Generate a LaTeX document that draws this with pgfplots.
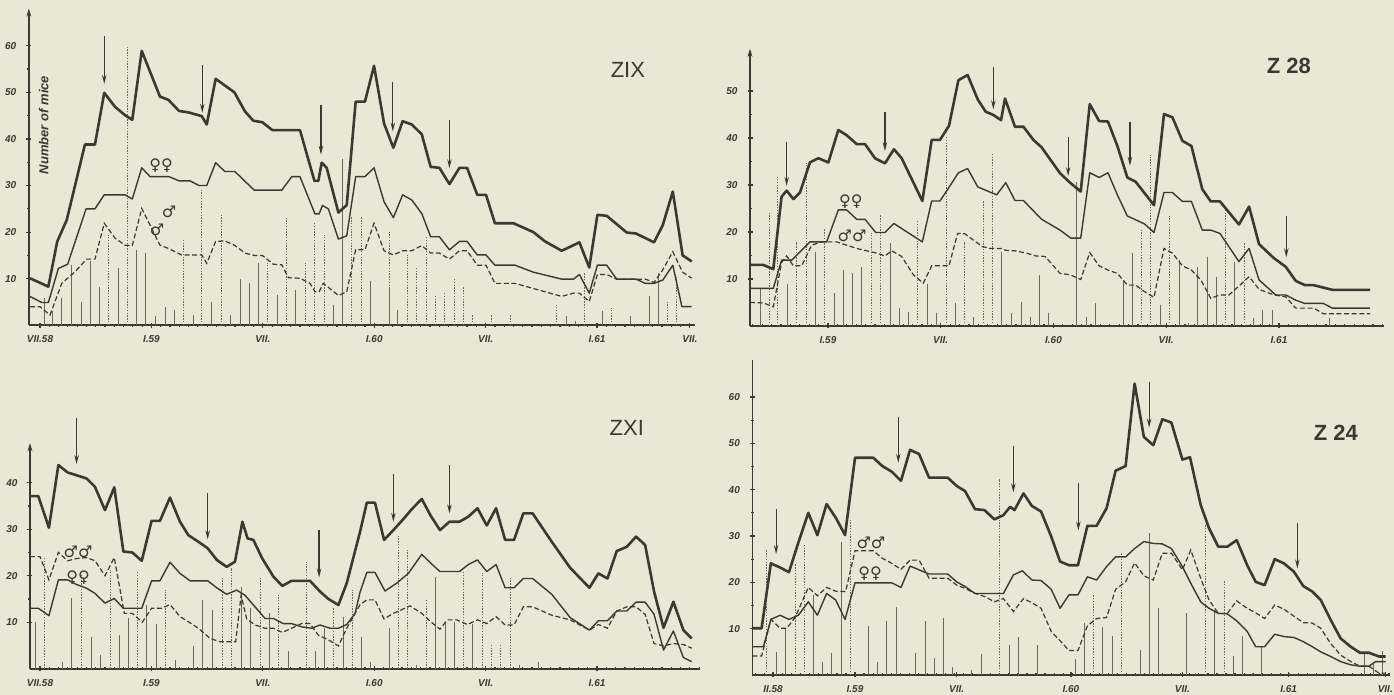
\documentclass[border=0pt]{standalone}
\usepackage{fontspec}
\setmainfont{Liberation Sans}
\newfontfamily\symfont{DejaVu Sans}
\usepackage{pgfplots}
\pgfplotsset{compat=1.18}
\usetikzlibrary{arrows.meta}
\definecolor{paper}{RGB}{232,232,214}
\definecolor{ink}{RGB}{58,58,50}
\definecolor{barc}{RGB}{105,105,95}
\tikzset{
 ttl/.style={font=\fontsize{11}{11}\selectfont, text=ink},
 ttlb/.style={font=\fontsize{11}{11}\selectfont\bfseries, text=ink},
 sym/.style={font=\symfont\fontsize{8}{8}\selectfont, text=ink, inner sep=0pt},
}
\pgfplotsset{
 panel/.style={
  scale only axis, anchor=south west, clip=false,
  axis lines=left,
  axis line style={ink, line width=0.9pt},
  x axis line style={-},
  y axis line style={-{Stealth[length=4pt,width=2.4pt]}},
  ymin=0,
  tick style={ink, line width=0.6pt},
  major tick length=2.5pt, minor tick length=1.5pt,
  tick align=center,
  minor y tick num=1,
  minor xtick={0,0.5,...,35.5},
  ticklabel style={font=\fontsize{5}{5}\selectfont\bfseries\itshape, text=ink},
  /pgf/number format/assume math mode=true,
  yticklabel style={xshift=-1.5pt},
  xticklabel style={yshift=-0.5pt},
 },
 tot/.style={ink, line width=1.3pt, line join=round, no marks},
 fem/.style={ink, line width=0.7pt, line join=round, no marks},
 mal/.style={ink, line width=0.6pt, dash pattern=on 2.5pt off 1.3pt, no marks},
 bard/.style={ycomb, barc, line width=0.3pt, dash pattern=on 0.7pt off 0.7pt, no marks},
 bars/.style={ycomb, barc, line width=0.35pt, no marks},
 arr/.style={ink, line width=0.6pt, -{Stealth[length=4.5pt,width=2.2pt]}, no marks},
}
\begin{document}
\begin{tikzpicture}
\useasboundingbox (0,0) rectangle (697pt,347.5pt);
\fill[paper] (0,0) rectangle (697pt,347.5pt);

% ================= ZIX =================
\begin{axis}[panel, at={(14.43pt,184.85pt)}, width=333.3pt, height=158.4pt,
  xmin=-0.6, xmax=35.3, ymax=68,
  ytick={10,20,30,40,50,60},
  xtick={0,6,12,18,24,30,35}, xticklabels={VII.58,I.59,VII.,I.60,VII.,I.61,VII.}]
\addplot[bars] coordinates {(0.22,5.8)(0.68,3)(1.17,5.8)(1.71,13)(2.21,5)(2.69,13.7)(3.18,8.3)(4.22,12.2)(5.21,16.2)(5.69,15.5)(6.23,1.9)(6.73,4)(7.24,3.3)(8.26,2.2)(9.25,5)(10.23,2.2)(10.77,10)(11.26,9)(11.76,13.3)(12.78,6.5)(13.77,7.6)(15.8,4.4)(16.28,35.8)(17.81,9.4)(18.8,8)(19.26,3.3)(28.33,1.9)(28.82,1)(30.31,3)(31.81,1.9)(32.8,6.2)(33.3,11.2)};
\addplot[bard] coordinates {(3.68,19.4)(4.7,60)(7.74,18.3)(8.71,29)(9.75,24)(12.26,13.3)(13.29,23)(14.27,13.3)(14.78,21.9)(15.3,19.4)(16.79,23.3)(17.32,23.3)(18.8,20.1)(19.8,15.1)(20.29,12.2)(20.79,19)(21.28,6.2)(21.78,7.2)(22.3,10.1)(22.8,8.3)(23.29,2.2)(24.33,2.2)(25.32,2.2)(27.83,4.4)(29.3,11.2)(30.79,3.8)(33.79,5)(34.29,10.4)};
\addplot[mal] coordinates {(-0.54,4.0)(0,4.0)(0.54,2.2)(1.17,9.0)(1.89,11.5)(2.51,14.2)(2.96,14.2)(3.46,21.9)(4.04,18.7)(4.58,17.2)(4.97,17.1)(5.48,25.1)(6.46,17.2)(6.91,16.5)(7.63,15.1)(8.71,15.1)(8.98,13.3)(9.46,18.0)(9.96,18.1)(10.47,17.2)(11.04,15.5)(11.54,15.0)(11.97,15.0)(12.57,13.1)(13.02,13.0)(13.38,10.2)(14.0,10.1)(14.54,9.0)(14.81,7.2)(15.03,7.2)(15.26,9.0)(16.07,6.4)(16.52,7.2)(17.0,16.2)(17.5,16.2)(17.99,21.9)(18.53,16.0)(19.03,15.1)(19.53,16.0)(20.02,16.0)(20.56,17.1)(21.04,15.5)(21.51,15.5)(22.05,14.2)(22.59,16.0)(23.0,16.0)(23.55,12.9)(24.02,12.9)(24.5,9.0)(25.58,9.0)(26.57,7.9)(28.1,6.2)(28.73,6.9)(29.05,6.9)(29.58,5.1)(30.02,10.9)(30.52,10.9)(31.06,9.9)(32.6,9.9)(33.07,9.2)(33.54,11.9)(34.08,15.8)(34.61,11.4)(35.1,10.1)};
\addplot[fem] coordinates {(-0.54,6.2)(0.09,4.9)(0.45,4.9)(0.99,12.2)(1.49,13.1)(2.48,25.0)(2.96,25.0)(3.46,28.0)(4.58,28.0)(4.97,27.1)(5.48,33.8)(5.93,31.9)(6.95,31.9)(7.49,31.0)(8.08,31.0)(8.56,30.0)(8.98,30.0)(9.46,34.9)(9.96,33.0)(10.5,33.0)(11.04,30.9)(11.54,29.0)(13.02,29.0)(13.56,31.9)(14.0,31.9)(14.81,23.9)(15.03,23.9)(15.21,25.7)(15.53,25.0)(16.07,18.5)(16.52,19.2)(17.0,31.9)(17.5,31.9)(17.99,33.8)(18.53,26.5)(19.03,23.1)(19.53,28.0)(20.02,26.9)(20.56,24.0)(21.04,19.0)(21.51,19.0)(22.05,16.2)(22.59,18.0)(23.0,18.0)(23.55,15.1)(24.02,15.1)(24.5,12.9)(25.58,12.9)(26.57,11.4)(28.1,9.9)(28.73,9.9)(29.05,10.9)(29.58,6.9)(30.02,12.9)(30.52,12.9)(31.06,9.9)(32.1,9.9)(32.6,9.0)(33.07,9.0)(33.54,9.7)(34.08,12.9)(34.57,4.0)(35.1,4.0)};
\addplot[tot] coordinates {(-0.54,10.1)(0.45,8.3)(0.93,18)(1.44,22.6)(2.42,38.8)(2.96,38.8)(3.46,49.9)(4.04,46.9)(4.58,45.1)(4.97,44.1)(5.48,58.9)(6.46,49.1)(6.91,48.4)(7.49,46)(7.99,45.7)(8.71,44.9)(8.98,43.1)(9.46,52.9)(10.47,50.0)(11.04,45.9)(11.49,43.9)(11.97,43.6)(12.51,41.9)(14.0,41.9)(14.78,31.0)(14.99,31.0)(15.17,34.9)(15.44,33.8)(16.07,24.2)(16.52,25.8)(17.0,48.0)(17.5,48.0)(17.99,55.7)(18.53,43.3)(19.03,38.1)(19.53,43.8)(20.02,43.1)(20.56,41.0)(21.04,34.0)(21.51,33.8)(22.05,30.3)(22.59,33.8)(23.0,33.8)(23.55,28.0)(24.02,28.0)(24.5,21.9)(25.5,21.9)(26.57,20.0)(27.2,18.0)(28.1,16.0)(29.05,17.8)(29.58,12.4)(30.02,23.7)(30.52,23.5)(31.06,21.7)(31.6,19.9)(32.1,19.7)(33.07,17.8)(33.54,21.5)(34.08,28.7)(34.61,15.0)(35.1,13.7)};
\addplot[arr] coordinates {(3.46,62)(3.46,51.8)};
\addplot[arr] coordinates {(8.74,55.9)(8.74,45.6)};
\addplot[arr] coordinates {(15.13,47.3)(15.13,36.6)};
\addplot[arr] coordinates {(19.0,52.3)(19.0,41.6)};
\addplot[arr] coordinates {(22.05,44)(22.05,33.7)};
\node[ttl] at (axis cs:31.66,54.8) {ZIX};
\node[rotate=90, font=\fontsize{6.5}{6.5}\selectfont\bfseries\itshape, text=ink] at (axis cs:0.2,43) {Number of mice};
\node[sym] at (axis cs:6.52,34.2) {♀♀};
\node[sym] at (axis cs:6.95,24.4) {♂};
\node[sym] at (axis cs:6.3,20.4) {♂};
\end{axis}

% ================= Z28 =================
\begin{axis}[panel, at={(375pt,184.5pt)}, width=317.1pt, height=138.65pt,
  xmin=1.85, xmax=35.6, ymax=59,
  ytick={10,20,30,40,50},
  minor xtick={2,2.5,...,35.5},
  xtick={6,12,18,24,30}, xticklabels={I.59,VII.,I.60,VII.,I.61}]
\addplot[bars] coordinates {(2.38,8)(3.85,9)(5.34,15.8)(6.34,7)(6.82,11.9)(7.3,11.2)(7.79,12.6)(9.3,17.7)(9.78,3.8)(10.28,3)(11.3,9)(11.78,2.7)(12.76,4.8)(13.73,2)(15.24,15.8)(15.77,2.7)(16.27,5.2)(16.75,2)(17.25,10.9)(17.73,2.7)(19.23,30.7)(19.73,2)(20.21,4.8)(21.7,9.8)(22.2,15.5)(23.67,4.5)(24.68,14)(25.16,0.7)(25.66,12.6)(26.19,14.6)(26.67,10.5)(27.64,13.7)(28.64,1.8)(29.13,3.5)(29.65,3.5)(32.67,1.6)};
\addplot[bard] coordinates {(2.86,24)(3.32,31.8)(4.33,17.9)(4.83,34.6)(5.8,20.8)(8.29,19.7)(8.77,23.8)(10.77,22.6)(12.28,40.3)(13.26,17.9)(14.25,26.5)(14.75,36.6)(22.68,20.4)(23.17,36.4)(24.17,23.4)(27.16,25)(28.14,17.6)};
\addplot[mal] coordinates {(1.85,5.0)(2.56,4.9)(3.09,4.1)(3.53,13.5)(3.8,14.9)(4.16,12.8)(4.6,12.8)(5.13,17.2)(5.66,17.9)(6.46,17.9)(6.99,17.2)(7.53,16.5)(8.06,16.0)(8.6,15.5)(9.03,14.9)(9.39,16.0)(9.92,14.8)(10.54,10.9)(11.07,9.1)(11.52,12.8)(12.44,12.8)(12.9,19.7)(13.29,19.6)(14.21,16.9)(14.62,16.5)(15.24,16.5)(15.46,16.1)(15.95,16.0)(16.57,15.5)(17.05,14.9)(17.55,14.8)(18.35,11.2)(18.88,10.9)(19.45,9.9)(19.93,15.6)(20.43,12.8)(20.9,11.9)(21.4,11.2)(21.93,8.7)(22.37,8.7)(22.85,7.3)(23.35,6.1)(23.88,16.5)(24.33,15.5)(24.86,12.8)(25.34,11.9)(25.84,9.8)(26.37,5.9)(26.86,6.6)(27.34,6.6)(27.87,8.5)(28.41,10.5)(28.94,7.8)(29.74,6.6)(30.36,6.2)(30.89,3.8)(31.86,3.8)(32.36,2.6)(34.85,2.6)};
\addplot[fem] coordinates {(1.85,8.0)(3.09,8.0)(3.53,14.0)(4.07,14.0)(5.04,17.9)(5.93,17.9)(6.55,24.7)(6.99,24.7)(7.53,22.7)(7.97,22.7)(8.54,19.9)(9.03,19.9)(9.51,21.8)(11.02,17.9)(11.52,26.6)(11.96,26.6)(12.44,29.5)(12.94,32.6)(13.43,33.5)(13.97,29.6)(14.44,28.8)(14.98,27.9)(15.46,30.5)(15.95,26.7)(16.4,26.7)(16.93,24.5)(17.37,22.7)(18.35,20.4)(18.92,18.7)(19.45,18.7)(19.93,32.6)(20.43,31.6)(20.9,32.6)(21.4,27.9)(21.93,23.4)(22.37,22.6)(22.85,21.7)(23.35,19.9)(23.88,28.4)(24.33,28.4)(24.86,26.5)(25.34,26.5)(25.92,20.4)(26.37,20.4)(26.86,19.7)(27.87,13.7)(28.41,16.5)(28.94,9.8)(29.83,6.6)(30.36,6.6)(30.89,5.5)(31.37,4.8)(32.36,4.8)(32.84,3.8)(34.85,3.8)};
\addplot[tot] coordinates {(1.85,13.0)(2.56,13.0)(3.09,12.1)(3.53,27.5)(3.8,28.8)(4.16,27.0)(4.51,28.4)(5.04,34.8)(5.49,35.7)(6.02,34.8)(6.55,41.7)(6.99,40.6)(7.53,38.7)(7.97,38.7)(8.5,35.7)(9.03,34.6)(9.51,37.6)(9.92,35.7)(11.02,26.6)(11.52,39.6)(11.96,39.6)(12.44,42.6)(12.94,52.3)(13.43,53.4)(13.97,48.2)(14.39,45.6)(14.8,44.9)(15.21,43.8)(15.42,48.4)(15.95,42.4)(16.4,42.4)(16.93,39.6)(17.37,38.0)(18.35,32.5)(18.88,30.5)(19.45,28.6)(19.93,47.2)(20.43,43.6)(20.9,43.5)(21.4,38.3)(21.93,31.6)(22.37,30.7)(23.35,25.7)(23.88,45.1)(24.33,44.4)(24.86,39.4)(25.34,38.3)(25.92,29.1)(26.37,26.5)(26.86,26.5)(27.87,21.6)(28.41,25.4)(28.94,17.4)(29.74,14.4)(30.36,12.6)(30.89,9.6)(31.37,8.7)(31.83,8.7)(32.84,7.7)(34.85,7.7)};
\addplot[arr] coordinates {(3.8,39.2)(3.8,29.8)};
\addplot[arr] coordinates {(9.03,45.6)(9.03,37.2)};
\addplot[arr] coordinates {(14.8,55.2)(14.8,46.1)};
\addplot[arr] coordinates {(18.78,40.3)(18.78,31.9)};
\addplot[arr] coordinates {(22.07,43.5)(22.07,34.1)};
\addplot[arr] coordinates {(30.39,23.4)(30.39,14.6)};
\node[ttlb] at (axis cs:30.53,55.3) {Z 28};
\node[sym] at (axis cs:7.22,26.4) {♀♀};
\node[sym] at (axis cs:7.28,19.1) {♂♂};
\end{axis}

% ================= ZXI =================
\begin{axis}[panel, at={(14.99pt,13.15pt)}, width=334.6pt, height=112.76pt,
  xmin=-0.54, xmax=35.5, ymax=48.5,
  ytick={10,20,30,40},
  xtick={0,6,12,18,24,30}, xticklabels={VII.58,I.59,VII.,I.60,VII.,I.61}]
\addplot[bars] coordinates {(-0.27,10.1)(1.2,1.5)(1.71,15.1)(2.75,6.9)(3.23,2.9)(4.25,7.2)(4.76,10.8)(5.75,13.7)(6.28,9.7)(7.27,1.9)(8.26,4.9)(8.76,14.8)(9.3,12.6)(10.83,17.6)(11.35,13)(12.35,11.9)(13.38,3.7)(14.81,3.7)(15.31,8.7)(16.34,11.2)(17.32,6.9)(17.81,1.5)(18.8,8.7)(20.29,0.8)(21.29,19.8)(21.81,10.1)(22.32,10.1)(23.3,9.7)(25.82,0.8)(26.84,1.5)};
\addplot[bard] coordinates {(0.22,23.7)(2.21,20.1)(3.77,21.2)(5.26,21)(6.77,16.9)(9.82,19.8)(10.32,21.7)(11.85,19.8)(12.84,15.8)(14.33,22.9)(15.8,13)(16.82,16.9)(19.3,28.7)(19.8,25.5)(20.79,14.8)(22.8,20.9)(23.81,20.5)(24.33,5.4)(24.81,5.4)(25.32,19.6)};
\addplot[mal] coordinates {(-0.54,24.1)(0,24.1)(0.48,19.1)(0.99,25.0)(1.49,23.2)(1.97,23.7)(2.51,23.9)(2.96,23.2)(3.5,20.0)(4.0,23.9)(4.54,11.9)(4.97,11.9)(5.51,10.0)(6.01,13.0)(6.55,13.0)(7.0,13.8)(7.54,11.2)(7.99,10.1)(8.53,8.7)(9.16,6.5)(9.69,5.8)(10.54,5.8)(10.83,15.8)(11.13,10.7)(11.58,9.4)(12.12,8.7)(12.57,8.7)(13.05,7.8)(13.55,8.7)(14.09,9.7)(14.54,9.7)(14.99,7.2)(15.53,6.2)(16.07,4.9)(16.52,8.7)(17.24,13.8)(17.6,14.8)(18.04,14.8)(18.53,10.7)(19.03,11.9)(19.93,13.5)(20.56,11.9)(21.04,10.1)(21.54,8.5)(21.94,10.5)(22.44,10.5)(23.02,9.5)(23.56,10.5)(24.06,9.7)(24.56,11.2)(25.05,9.4)(25.53,9.4)(26.03,13.3)(26.53,13.3)(27.56,11.5)(28.55,10.5)(29.59,8.3)(30.07,9.5)(30.56,8.7)(31.06,12.4)(31.6,13.3)(32.1,13.3)(32.59,11.7)(33.07,5.4)(33.58,4.9)(34.11,5.4)(34.65,5.2)(35.1,4.4)};
\addplot[fem] coordinates {(-0.54,13.0)(-0.09,13.0)(0.48,11.4)(0.99,19.1)(1.49,19.1)(1.97,18.1)(2.51,17.3)(2.96,16.2)(3.5,14.1)(4.0,15.1)(4.49,13.0)(5.48,13.0)(6.01,18.9)(6.46,18.9)(7.0,22.9)(7.54,20.5)(8.08,18.9)(9.03,18.9)(9.52,17.4)(10.05,16.0)(10.59,16.9)(11.04,15.8)(11.58,13.3)(12.12,10.8)(12.57,10.8)(13.1,9.7)(13.55,9.7)(14.09,9.0)(14.63,8.7)(15.08,9.4)(15.62,8.7)(16.07,8.7)(16.52,9.5)(16.97,11.9)(17.24,16.5)(17.6,20.7)(18.04,20.7)(18.58,16.7)(19.21,18.4)(19.84,20.5)(20.56,24.6)(21.04,22.7)(21.54,20.9)(22.59,20.9)(23.07,22.4)(23.56,23.4)(24.06,20.9)(24.56,22.4)(25.05,17.4)(25.53,17.4)(26.03,19.4)(26.53,19.4)(27.56,16.0)(28.55,11.0)(29.59,8.3)(30.07,10.3)(30.56,10.3)(31.06,12.4)(31.6,12.4)(32.1,14.3)(32.59,14.3)(33.07,11.7)(33.58,4.0)(34.11,8.1)(34.65,2.4)(35.1,1.5)};
\addplot[tot] coordinates {(-0.54,37.1)(-0.09,37.1)(0.48,30.3)(0.99,43.8)(1.49,42.2)(1.97,41.6)(2.51,40.9)(2.96,39.1)(3.5,34.1)(4.0,39.0)(4.49,25.2)(4.97,25.0)(5.48,23.2)(6.01,31.8)(6.46,31.8)(7.0,36.8)(7.54,31.6)(7.99,28.7)(8.53,27.3)(9.03,25.9)(9.52,23.4)(10.05,21.9)(10.5,23.0)(10.9,31.6)(11.18,28.0)(11.49,27.7)(11.97,23.7)(12.57,19.8)(13.05,17.8)(13.55,18.9)(14.54,18.9)(15.08,16.6)(15.53,15.0)(16.07,13.7)(16.52,18.4)(17.24,29.5)(17.6,35.7)(18.04,35.7)(18.53,27.7)(19.03,29.8)(19.53,32.0)(20.02,34.3)(20.56,36.5)(21.04,32.9)(21.54,29.8)(22.05,31.6)(22.59,31.6)(23.07,32.7)(23.56,34.5)(24.06,30.8)(24.56,34.5)(25.05,27.7)(25.53,27.7)(26.03,33.4)(26.53,33.4)(27.56,27.3)(28.55,21.7)(29.59,17.4)(30.07,20.5)(30.56,19.4)(31.06,25.3)(31.6,26.2)(32.1,28.4)(32.59,26.6)(33.07,16.6)(33.58,8.8)(34.11,14.4)(34.65,8.3)(35.1,6.5)};
\addplot[arr] coordinates {(1.97,54)(1.97,44)};
\addplot[arr] coordinates {(9.03,37.7)(9.03,27.8)};
\addplot[arr] coordinates {(15.03,29.8)(15.03,19.6)};
\addplot[arr] coordinates {(19.03,41.8)(19.03,31.6)};
\addplot[arr] coordinates {(22.05,43.7)(22.05,33.4)};
\node[ttl] at (axis cs:31.6,51.8) {ZXI};
\node[sym] at (axis cs:2.05,25.1) {♂♂};
\node[sym] at (axis cs:2.05,19.5) {♀♀};
\end{axis}

% ================= Z24 =================
\begin{axis}[panel, at={(376.2pt,10pt)}, width=318.8pt, height=157.5pt,
  xmin=0.33, xmax=35.56, ymax=68,
  ytick={10,20,30,40,50,60},
  minor xtick={0.5,1,...,35.5},
  y axis line style={-},
  xtick={1.47,6,11.62,17.93,24.09,29.96,35.3}, xticklabels={II.58,I.59,VII.,I.60,VII.,I.61,VII.}]
\addplot[bars] coordinates {(1.64,5)(2.13,10.1)(3.7,17.3)(4.2,2.9)(4.71,4.7)(5.23,28.8)(6.74,10.6)(7.25,2.9)(7.75,11.7)(8.3,14.7)(9.31,4.7)(9.87,11.7)(10.36,3.6)(10.88,12.4)(11.4,1.8)(12.45,1.1)(12.96,4.5)(14.51,6.5)(15.02,8.3)(16.06,6.5)(18.15,3.4)(18.67,11.3)(19.68,10.4)(20.2,8.4)(21.75,5.4)(22.25,30.6)(22.78,14.4)(24.31,13.3)(24.82,0.5)(25.87,14)(26.9,4.1)(27.42,8.4)(27.94,0.4)(28.45,6.1)(30.0,0.4)(34.12,4.7)(34.64,2.5)(35.14,5.2)};
\addplot[bard] coordinates {(1.12,27.1)(2.69,24)(3.18,28.1)(5.74,33.6)(13.97,42.4)(19.17,17.3)(20.71,26.4)(25.37,32.6)(26.39,20.5)};
\addplot[mal] coordinates {(0.33,4.1)(0.84,4.1)(1.35,12.0)(1.86,10.1)(2.23,10.1)(2.69,12.4)(3.42,18.9)(3.92,17.1)(4.43,18.9)(4.93,18.1)(5.48,18.0)(6.0,26.8)(7.01,26.8)(7.51,25.2)(8.03,24.1)(8.54,22.8)(9.04,24.8)(9.54,24.8)(10.09,20.9)(11.12,20.9)(11.62,19.4)(12.08,18.7)(12.63,17.6)(13.19,16.9)(13.7,15.8)(14.2,16.5)(14.75,13.7)(15.31,16.5)(15.77,15.6)(16.28,14.4)(16.84,9.4)(17.33,7.4)(17.82,5.3)(18.32,5.3)(18.84,10.6)(19.35,12.2)(19.9,12.4)(20.4,18.5)(20.95,20.1)(21.45,24.2)(21.96,21.4)(22.48,20.5)(22.98,26.3)(23.48,26.3)(24.09,22.7)(24.55,27.0)(25.1,20.9)(25.56,16.2)(26.07,13.3)(26.57,13.3)(27.09,16.0)(27.67,14.4)(28.19,13.3)(28.63,12.2)(29.19,15.1)(29.7,14.2)(30.25,12.7)(30.77,11.3)(31.27,11.2)(31.73,10.1)(32.28,6.8)(32.83,4.3)(33.39,2.9)(33.9,1.9)(34.4,1.9)(34.95,0.4)(35.32,0.4)};
\addplot[fem] coordinates {(0.33,6.1)(0.94,6.1)(1.35,12.0)(1.86,12.9)(2.35,12.0)(2.87,12.9)(3.42,15.8)(3.92,12.9)(4.43,17.6)(4.93,16.2)(5.45,12.0)(6.0,19.9)(8.03,19.9)(8.54,18.9)(9.04,23.5)(9.54,22.7)(10.09,21.8)(11.12,21.8)(11.62,20.1)(12.08,19.1)(12.63,17.6)(14.2,17.6)(14.75,21.6)(15.25,22.5)(15.77,20.5)(16.28,20.4)(16.84,18.5)(17.33,14.4)(17.82,17.3)(18.32,17.3)(18.84,21.2)(19.35,20.5)(19.9,23.4)(20.4,25.5)(20.95,25.5)(21.45,27.3)(21.96,28.8)(22.48,28.4)(22.98,28.3)(23.48,27.3)(24.09,23.4)(24.55,19.8)(25.1,15.8)(25.56,14.4)(26.07,13.3)(26.57,13.2)(27.09,11.7)(27.67,9.4)(28.14,6.1)(28.63,6.1)(29.19,8.8)(29.7,8.3)(30.25,8.1)(30.77,7.2)(31.27,6.1)(31.73,5.0)(32.28,4.0)(32.83,2.9)(33.39,2.2)(33.9,1.9)(34.4,1.9)(34.77,2.9)(35.32,2.9)};
\addplot[tot] coordinates {(0.33,10.1)(0.84,10.1)(1.35,24.1)(1.86,23.2)(2.35,22.2)(2.87,28.6)(3.42,35.0)(3.92,30.2)(4.43,36.9)(4.93,34.0)(5.45,30.2)(6.0,46.9)(7.01,46.9)(7.51,45.1)(8.03,43.9)(8.54,41.9)(9.04,48.6)(9.54,47.7)(10.09,42.6)(11.12,42.6)(11.62,40.8)(12.08,39.7)(12.63,35.8)(13.15,35.6)(13.7,33.6)(14.2,34.5)(14.57,36.3)(14.81,35.6)(15.31,39.2)(15.77,36.5)(16.28,35.3)(16.84,29.9)(17.33,24.5)(17.82,23.7)(18.32,23.7)(18.84,32.2)(19.35,32.2)(19.9,36.0)(20.4,44.1)(20.95,45.1)(21.45,62.9)(21.96,51.4)(22.48,49.6)(22.98,55.2)(23.48,54.5)(24.09,46.5)(24.51,47.0)(25.1,36.7)(25.56,31.7)(26.07,27.7)(26.57,27.7)(27.09,29.1)(27.67,23.7)(28.14,20.1)(28.63,19.4)(29.19,25.0)(29.7,24.1)(30.25,22.3)(30.77,19.2)(31.27,18.0)(31.73,16.2)(32.28,11.9)(32.83,7.9)(33.39,6.1)(33.9,4.8)(34.4,4.8)(34.95,4.0)(35.32,4.0)};
\addplot[arr] coordinates {(1.64,35.8)(1.64,26.1)};
\addplot[arr] coordinates {(8.39,55.8)(8.39,45.8)};
\addplot[arr] coordinates {(14.75,49.4)(14.75,39.4)};
\addplot[arr] coordinates {(18.34,41.4)(18.34,31.2)};
\addplot[arr] coordinates {(22.25,63.3)(22.25,53.4)};
\addplot[arr] coordinates {(30.44,32.9)(30.44,23.0)};
\node[ttlb] at (axis cs:32.57,52.2) {Z 24};
\node[sym] at (axis cs:6.88,28.6) {♂♂};
\node[sym] at (axis cs:6.83,21.9) {♀♀};
\end{axis}
\end{tikzpicture}
\end{document}
